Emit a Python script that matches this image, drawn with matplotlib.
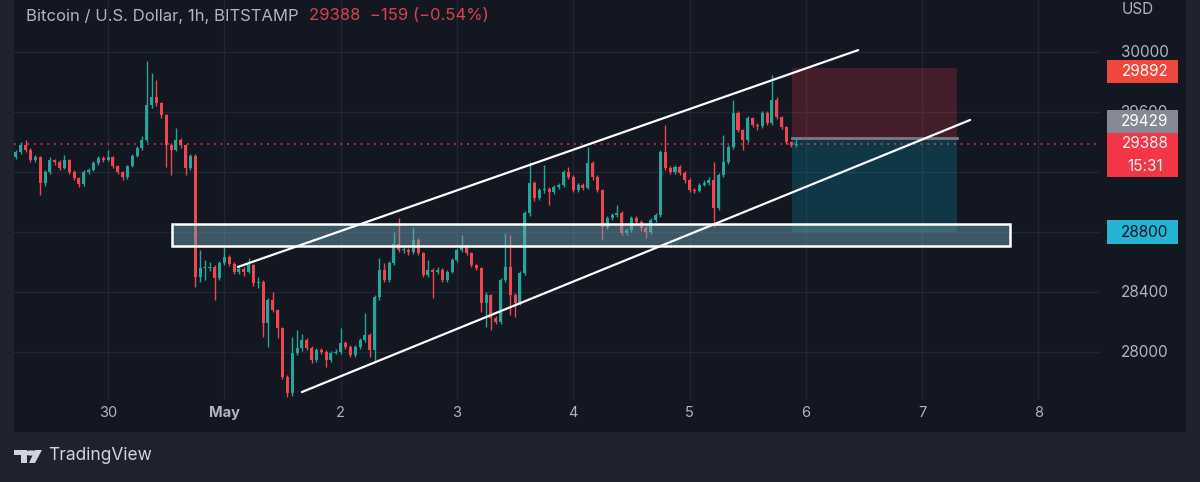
import numpy as np
import matplotlib.pyplot as plt
import matplotlib.transforms as mtransforms
from matplotlib.patches import Rectangle, Polygon, Circle

# hourly BTC/USD candles, first candle = Apr 29 05:00 (hour -19 from Apr 30 00:00)
first_open = 29300
closes = [
    29333, 29380, 29347, 29280, 29300, 29127, 29200, 29280, 29267, 29227,
    29280, 29200, 29160, 29120, 29200, 29213, 29260, 29293, 29280, 29300,
    29240, 29200, 29167, 29240, 29307, 29360, 29413, 29647, 29700, 29660,
    29580, 29380, 29347, 29413, 29380, 29227, 29307, 28500, 28560, 28560,
    28570, 28493, 28593, 28633, 28587, 28533, 28553, 28533, 28580, 28460,
    28467, 28193, 28347, 28280, 28160, 27833, 27727, 27993, 28027, 28080,
    28027, 27947, 28013, 28000, 27947, 27993, 28000, 28060, 28033, 27980,
    28033, 28080, 28113, 28013, 28367, 28547, 28480, 28593, 28720, 28680,
    28680, 28667, 28747, 28660, 28513, 28547, 28533, 28547, 28480, 28533,
    28613, 28680, 28700, 28660, 28580, 28560, 28327, 28380, 28227, 28200,
    28480, 28567, 28380, 28327, 28527, 28927, 29127, 29027, 29080, 29085,
    29067, 29100, 29113, 29200, 29167, 29080, 29113, 29093, 29260, 29167,
    29080, 28833, 28893, 28913, 28927, 28793, 28813, 28893, 28867, 28827,
    28800, 28880, 28913, 29333, 29227, 29200, 29233, 29193, 29147, 29080,
    29075, 29113, 29127, 29147, 28960, 29180, 29267, 29367, 29593, 29480,
    29413, 29560, 29513, 29505, 29593, 29527, 29680, 29567, 29500, 29400,
    29380, 29388]
highs = [
    29350, 29400, 29413, 29360, 29315, 29310, 29215, 29300, 29290, 29280,
    29313, 29290, 29215, 29170, 29215, 29230, 29275, 29310, 29305, 29347,
    29310, 29250, 29210, 29250, 29320, 29375, 29440, 29940, 29860, 29813,
    29670, 29590, 29395, 29493, 29425, 29390, 29320, 29320, 28680, 28613,
    28600, 28580, 28610, 28713, 28645, 28600, 28575, 28565, 28630, 28590,
    28500, 28480, 28360, 28400, 28290, 28170, 27845, 28100, 28147, 28120,
    28093, 28040, 28030, 28025, 28015, 28005, 28020, 28160, 28075, 28045,
    28045, 28095, 28260, 28125, 28380, 28627, 28593, 28610, 28800, 28893,
    28700, 28695, 28833, 28760, 28670, 28613, 28560, 28565, 28560, 28550,
    28625, 28695, 28780, 28715, 28670, 28590, 28570, 28400, 28390, 28240,
    28495, 28793, 28780, 28395, 28540, 28940, 29267, 29140, 29095, 29247,
    29100, 29115, 29130, 29215, 29233, 29180, 29130, 29125, 29367, 29275,
    29180, 29090, 28910, 28930, 28980, 28940, 28830, 28905, 28905, 28880,
    28840, 28895, 28930, 29347, 29513, 29240, 29250, 29245, 29205, 29160,
    29095, 29125, 29145, 29165, 29267, 29195, 29447, 29380, 29680, 29605,
    29490, 29575, 29570, 29525, 29605, 29605, 29847, 29700, 29575, 29510,
    29410, 29427]
lows = [
    29290, 29320, 29335, 29265, 29270, 29047, 29110, 29190, 29250, 29215,
    29220, 29190, 29145, 29100, 29110, 29190, 29205, 29250, 29270, 29275,
    29230, 29185, 29150, 29155, 29235, 29300, 29350, 29400, 29630, 29640,
    29560, 29233, 29180, 29340, 29360, 29180, 29215, 28433, 28470, 28480,
    28540, 28347, 28480, 28580, 28575, 28520, 28520, 28510, 28525, 28440,
    28430, 28100, 28033, 28265, 28093, 27820, 27700, 27710, 27980, 28010,
    28013, 27930, 27935, 27985, 27900, 27935, 27985, 27990, 28020, 27965,
    27970, 28020, 28070, 27967, 27933, 28350, 28465, 28470, 28580, 28665,
    28660, 28650, 28655, 28645, 28500, 28500, 28360, 28520, 28465, 28470,
    28525, 28600, 28670, 28645, 28565, 28545, 28267, 28167, 28147, 28185,
    28190, 28470, 28247, 28233, 28315, 28515, 28910, 29010, 29015, 29060,
    28980, 29055, 29090, 29100, 29155, 29065, 29070, 29080, 29085, 29150,
    29065, 28747, 28820, 28880, 28900, 28780, 28780, 28800, 28850, 28810,
    28760, 28790, 28870, 28900, 29215, 29185, 29190, 29180, 29130, 29065,
    29060, 29065, 29105, 29115, 28833, 28950, 29170, 29255, 29355, 29465,
    29347, 29400, 29500, 29480, 29495, 29515, 29515, 29555, 29485, 29385,
    29365, 29370]
opens = [first_open] + closes[:-1]
hours = np.arange(len(closes)) - 19

last_price = 29388
stop_price = 29892
entry_price = 29429
target_price = 28800
price_ticks = [28000, 28400, 28800, 29200, 29600, 30000]
day_labels = ['30', 'May', '2', '3', '4', '5', '6', '7', '8']
day_hours = [0, 24, 48, 72, 96, 120, 144, 168, 192]

# drawings (hour, price)
zone_hours, zone_prices = (13.2, 186.1), (28707, 28853)
upper_line = ((26.8, 154.8), (28567, 30013))
lower_line = ((40.0, 177.9), (27733, 29547))
position_hours = (141.1, 175.2)

BG = '#131722'
OUTER = '#1e222d'
GRID = '#222633'
UP = '#26a69a'
DOWN = '#f0464f'
TXT = '#b2b5be'

plt.rcParams['font.family'] = ['Inter', 'DejaVu Sans']

fig = plt.figure(figsize=(12, 4.82), dpi=100, facecolor=OUTER)
W, H = 1200, 482
fig.add_artist(Rectangle((14 / W, 1 - 432 / H), (1186 - 14) / W, 432 / H,
                         transform=fig.transFigure, facecolor=BG, edgecolor='none', zorder=0))

ax = fig.add_axes([14 / W, 1 - 400 / H, (1100 - 14) / W, 400 / H])
ax.set_facecolor(BG)
ax.set_xlim(-19.4, 204.7)
ax.set_ylim(27680, 30347)
for s in ax.spines.values():
    s.set_visible(False)
ax.set_xticks([])
ax.set_yticks([])

for p in price_ticks:
    ax.axhline(p, color=GRID, lw=1, zorder=1)
for h in day_hours:
    ax.axvline(h, color=GRID, lw=1, zorder=1)

# candles
opens_a, closes_a = np.array(opens), np.array(closes)
colors = [UP if c >= o else DOWN for o, c in zip(opens, closes)]
ax.vlines(hours, lows, highs, colors=colors, lw=1, zorder=3)
bottoms = np.minimum(opens_a, closes_a)
heights = np.maximum(np.abs(closes_a - opens_a), 8)
ax.bar(hours, heights, bottom=bottoms, width=0.62, color=colors, edgecolor='none', zorder=3)

# last price dotted line
ax.axhline(last_price, color='#f23645', lw=1.2, ls=(0, (1, 3)), zorder=2)

# short position tool
ax.add_patch(Rectangle((position_hours[0], entry_price), position_hours[1] - position_hours[0],
                       stop_price - entry_price, facecolor='#f23645', alpha=0.22, edgecolor='none', zorder=2))
ax.add_patch(Rectangle((position_hours[0], target_price), position_hours[1] - position_hours[0],
                       entry_price - target_price, facecolor='#00bcd4', alpha=0.2, edgecolor='none', zorder=2))
ax.plot(position_hours, [entry_price, entry_price], color='#787b86', lw=2, zorder=2)

# support zone
ax.add_patch(Rectangle((zone_hours[0], zone_prices[0]), zone_hours[1] - zone_hours[0],
                       zone_prices[1] - zone_prices[0], facecolor='#73a6b8', alpha=0.45,
                       edgecolor='none', zorder=4))
ax.add_patch(Rectangle((zone_hours[0], zone_prices[0]), zone_hours[1] - zone_hours[0],
                       zone_prices[1] - zone_prices[0], facecolor='none',
                       edgecolor='white', lw=1.8, zorder=5))

# channel
ax.plot(upper_line[0], upper_line[1], color='white', lw=1.6, zorder=5, solid_capstyle='round')
ax.plot(lower_line[0], lower_line[1], color='white', lw=1.6, zorder=5, solid_capstyle='round')

# price scale
btrans = mtransforms.blended_transform_factory(fig.transFigure, ax.transData)
lx = 1145 / W
fig.text(1138 / W, 1 - 10 / H, 'USD', color=TXT, fontsize=11, ha='center', va='center')
for p in price_ticks:
    ax.text(lx, p, str(p), transform=btrans, color=TXT, fontsize=11,
            ha='center', va='center', clip_on=False, zorder=6)


def tag(y_center, h_usd, color, lines, txt_color='white'):
    ax.add_patch(Rectangle((1107 / W, y_center - h_usd / 2), 71 / W, h_usd, transform=btrans,
                           facecolor=color, edgecolor='none', clip_on=False, zorder=7))
    n = len(lines)
    for k, s in enumerate(lines):
        yy = y_center + (n - 1) * 75 - k * 150
        ax.text(lx, yy, s, transform=btrans, color=txt_color, fontsize=11,
                ha='center', va='center', clip_on=False, zorder=8)


tag(29873, 153, '#f0473c', [str(stop_price)])
tag(29540, 153, '#868993', [str(entry_price)])
tag(29313, 293, '#f23645', [str(last_price), '15:31'], txt_color='#f5f5f5')
tag(target_price, 160, '#22b4d0', [str(target_price)], txt_color='#131722')

# time axis
ttrans = mtransforms.blended_transform_factory(ax.transData, fig.transFigure)
for h, lab in zip(day_hours, day_labels):
    ax.text(h, 1 - 413 / H, lab, transform=ttrans, color=TXT, fontsize=10.5,
            ha='center', va='center', clip_on=False,
            fontweight='bold' if lab == 'May' else 'normal')

# header
fig.text(26 / W, 1 - 16 / H, 'Bitcoin / U.S. Dollar, 1h, BITSTAMP', color=TXT,
         fontsize=12, ha='left', va='center')
fig.text(309 / W, 1 - 16 / H, '29388  \u2212159 (\u22120.54%)', color='#d8434b',
         fontsize=12, ha='left', va='center')

# TradingView logo
def px(x, y):
    return (x / W, 1 - y / H)

logo_col = '#d1d4dc'
fig.add_artist(Polygon([px(14, 450), px(27, 450), px(27, 463), px(21, 463), px(21, 455), px(14, 455)],
                       closed=True, transform=fig.transFigure, facecolor=logo_col, edgecolor='none'))
fig.add_artist(Circle(px(31, 453), 2.6 / H, transform=fig.transFigure, facecolor=logo_col, edgecolor='none'))
fig.add_artist(Polygon([px(35, 450), px(42, 450), px(35, 463), px(29, 463)],
                       closed=True, transform=fig.transFigure, facecolor=logo_col, edgecolor='none'))
fig.text(48 / W, 1 - 456 / H, 'TradingView', color=logo_col, fontsize=12.5, ha='left', va='center')

fig.savefig('out.png', dpi=100, facecolor=OUTER)
